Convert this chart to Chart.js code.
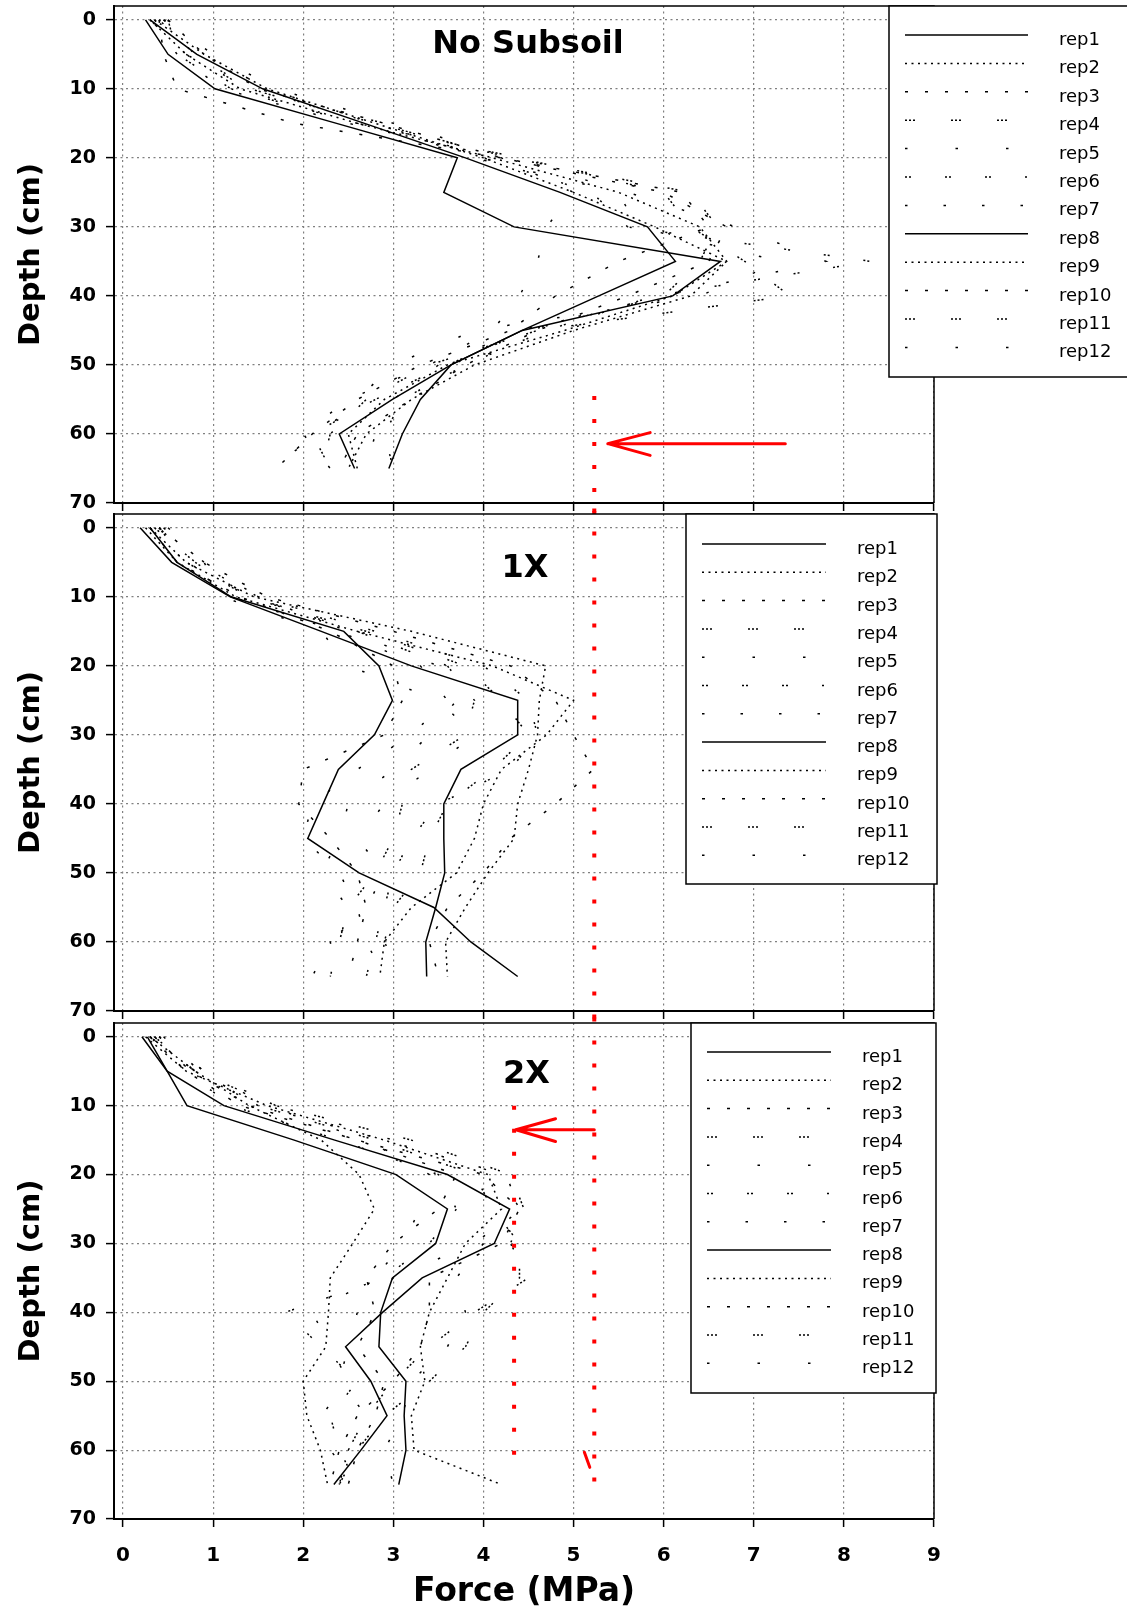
<!DOCTYPE html>
<html>
<head>
<meta charset="utf-8">
<script src="https://cdn.jsdelivr.net/npm/chart.js@4.4.1/dist/chart.umd.min.js"></script>
<style>
  html, body { margin: 0; padding: 0; background: #fff; }
  #wrap { position: relative; width: 1127px; height: 1612px; }
  #wrap canvas { position: absolute; left: 0; }
</style>
</head>
<body>
<div id="wrap">
  <canvas id="p1" width="1127" height="514" style="top:0"></canvas>
  <canvas id="p2" width="1127" height="515" style="top:508px"></canvas>
  <canvas id="p3" width="1127" height="595" style="top:1017px"></canvas>
</div>
<script>
// 深さ(cm)と目盛り
var DEPTH = [0, 5, 10, 15, 20, 25, 30, 35, 40, 45, 50, 55, 60, 65];
var X_TICKS = [0, 1, 2, 3, 4, 5, 6, 7, 8, 9];
var Y_TICKS = [0, 10, 20, 30, 40, 50, 60, 70];
var REPS = ["rep1", "rep2", "rep3", "rep4", "rep5", "rep6", "rep7", "rep8", "rep9", "rep10", "rep11", "rep12"];
var TITLES = ["No Subsoil", "1X", "2X"];

// 貫入抵抗 (MPa)、各行 rep1..rep12、DEPTH の順
var NO_SUBSOIL = [
    [0.30, 0.82, 1.55, 2.68, 3.80, 4.85, 5.82, 6.13, 5.28, 4.43, 3.64, 2.99, 2.40, 2.57],
    [0.35, 0.90, 1.60, 2.80, 4.00, 5.00, 5.90, 6.70, 6.10, 4.90, 3.60, 2.90, 2.50, 2.60],
    [0.40, 0.45, 0.60, 1.90, 4.20, 6.20, 6.50, 5.50, 4.80, 4.30, 3.30, 2.60, 2.10, 1.70],
    [0.50, 0.60, 1.20, 2.60, 4.40, 6.00, 6.30, 6.90, 7.40, 4.60, 3.40, 2.70, 2.30, 2.20],
    [0.45, 1.00, 1.70, 3.00, 4.30, 5.60, 6.80, 7.80, 6.00, 4.40, 3.50, 3.00, 2.80, 2.70],
    [0.40, 0.80, 1.40, 2.90, 4.00, 5.20, 5.60, 8.30, 5.90, 4.70, 3.80, 3.10, 2.90, 3.00],
    [0.35, 0.60, 1.10, 2.50, 4.20, 5.00, 4.70, 4.60, 4.40, 4.10, 3.40, 2.50, 2.00, 2.30],
    [0.25, 0.50, 1.02, 2.37, 3.71, 3.56, 4.34, 6.63, 6.10, 4.43, 3.64, 3.30, 3.10, 2.95],
    [0.30, 0.70, 1.30, 2.60, 4.10, 5.50, 6.40, 6.70, 6.30, 5.00, 3.90, 3.20, 2.70, 2.50],
    [0.50, 0.90, 1.50, 2.90, 4.20, 6.00, 6.70, 6.50, 5.60, 4.60, 3.80, 3.20, 2.60, 2.40],
    [0.30, 0.70, 1.40, 2.80, 4.30, 6.30, 6.60, 6.40, 6.00, 4.50, 3.60, 2.80, 2.10, 2.30],
    [0.45, 0.90, 1.60, 2.80, 3.90, 5.50, 5.70, 7.30, 6.40, 3.90, 3.00, 2.60, 2.20, 1.60]
];
var SUBSOIL_1X = [
    [0.19, 0.54, 1.19, 2.20, 3.20, 4.38, 4.38, 3.75, 3.56, 3.56, 3.57, 3.47, 3.36, 3.37],
    [0.30, 0.70, 1.45, 3.20, 4.69, 4.62, 4.60, 4.50, 4.38, 4.34, 4.05, 3.80, 3.58, 3.60],
    [0.30, 0.60, 1.30, 2.30, 3.00, 3.10, 2.90, 2.00, 1.95, 2.30, 2.60, 2.70, 2.60, 2.50],
    [0.40, 0.70, 1.40, 2.60, 3.60, 3.90, 3.80, 3.20, 3.10, 3.00, 2.80, 2.50, 2.40, 2.30],
    [0.50, 0.90, 1.10, 2.20, 2.50, 3.50, 3.90, 3.40, 2.90, 2.60, 2.90, 2.70, 2.30, 2.10],
    [0.35, 0.80, 1.50, 2.80, 4.00, 4.50, 4.60, 4.30, 3.50, 3.20, 3.00, 2.90, 2.80, 2.70],
    [0.30, 0.70, 1.20, 2.40, 3.30, 3.60, 3.20, 2.60, 2.10, 2.00, 2.40, 2.60, 2.70, 2.90],
    [0.30, 0.60, 1.20, 2.45, 2.84, 2.99, 2.79, 2.39, 2.22, 2.05, 2.62, 3.45, 3.86, 4.38],
    [0.25, 0.60, 1.25, 2.60, 4.10, 5.00, 4.70, 4.20, 4.00, 3.90, 3.70, 3.20, 2.90, 2.85],
    [0.40, 0.90, 1.60, 3.00, 4.30, 4.80, 5.00, 5.22, 4.80, 4.30, 4.00, 3.60, 3.40, 3.50],
    [0.40, 0.80, 1.40, 2.70, 3.80, 4.20, 4.50, 4.10, 3.60, 3.40, 3.30, 3.00, 2.90, 3.10],
    [0.45, 0.90, 1.50, 2.50, 3.50, 3.70, 3.40, 3.00, 2.50, 2.40, 2.20, 2.50, 2.30, 2.40]
];
var SUBSOIL_2X = [
    [0.21, 0.49, 1.12, 2.35, 3.60, 4.29, 4.12, 3.32, 2.88, 2.47, 2.75, 2.93, 2.64, 2.34],
    [0.30, 0.80, 1.40, 2.20, 2.62, 2.79, 2.55, 2.30, 2.28, 2.25, 2.00, 2.04, 2.19, 2.27],
    [0.30, 0.70, 1.30, 2.60, 4.00, 4.40, 4.20, 3.40, 3.40, 3.30, 3.00, 2.60, 2.40, 2.30],
    [0.35, 0.80, 1.50, 2.80, 3.90, 4.10, 4.40, 4.40, 4.00, 3.80, 3.40, 2.90, 2.60, 2.40],
    [0.40, 0.90, 1.70, 3.00, 4.20, 4.40, 3.90, 3.00, 2.60, 2.50, 2.40, 2.70, 2.50, 2.20],
    [0.30, 0.70, 1.20, 2.40, 3.50, 3.70, 3.40, 2.90, 1.80, 2.20, 2.60, 2.30, 2.40, 2.60],
    [0.45, 0.85, 1.50, 2.90, 4.25, 4.40, 4.00, 3.70, 3.80, 3.60, 3.20, 3.10, 2.90, 3.00],
    [0.27, 0.49, 0.71, 1.90, 3.03, 3.60, 3.47, 2.99, 2.86, 2.84, 3.14, 3.12, 3.14, 3.06],
    [0.25, 0.70, 1.60, 2.90, 4.05, 4.20, 3.80, 3.60, 3.40, 3.30, 3.35, 3.20, 3.23, 4.20],
    [0.35, 0.75, 1.40, 2.60, 3.70, 3.50, 3.00, 2.70, 2.80, 2.60, 2.90, 2.80, 2.60, 2.50],
    [0.30, 0.80, 1.70, 3.20, 4.30, 4.45, 4.30, 4.50, 3.90, 3.40, 3.00, 2.70, 2.50, 2.40],
    [0.40, 0.90, 1.60, 2.70, 3.40, 3.30, 3.10, 2.80, 2.10, 2.30, 2.50, 2.20, 2.30, 2.60]
];

// 赤の注記(縦の点線と矢印)
var RED_X = 5.23;
var RED_DEPTH = [[54.5, 71.6], [-2.8, 71.7], [-2.8, 66]];
var RED2_X = 4.34;
var RED2_DEPTH = [10, 62];
var ARROW1_X = [7.35, 5.38, 5.85, 5.38, 5.85];
var ARROW1_D = [61.4, 61.4, 59.8, 61.4, 63.1];
var ARROW3_X = [5.23, 4.36, 4.80, 4.36, 4.80];
var ARROW3_D = [13.5, 13.5, 11.9, 13.5, 15.2];
var MARK3_X = [5.12, 5.18];
var MARK3_D = [60.3, 62.5];

(function () {
    "use strict";

    var FONT = "DejaVu Sans";
    // SigmaPlot 風の線種 (rep8 以降は繰り返し)
    var DASH = [[], [2, 4.5], [3, 17], [2, 2, 2, 2, 2, 36], [2.5, 48], [2, 2, 2, 34], [2.5, 36],
                [], [2, 4.5], [3, 17], [2, 2, 2, 2, 2, 36], [2.5, 48]];

    Chart.defaults.font.family = FONT;
    Chart.defaults.color = "#000";

    function pts(xs, ds) { return ds.map(function (d, k) { return { x: xs[k], y: d }; }); }

    function repSets(rows) {
        return rows.map(function (f, i) {
            return { label: REPS[i], data: pts(f, DEPTH), borderColor: "#000", borderWidth: 1.5,
                     borderDash: DASH[i], pointRadius: 0, tension: 0, fill: false };
        });
    }
    function redDots(x, ds) {
        return { label: "", data: ds.map(function (d) { return { x: x, y: d }; }), borderColor: "#ff0000",
                 borderWidth: 4, borderDash: [4, 19], pointRadius: 0, clip: false };
    }
    function redSolid(xs, ds) {
        return { label: "", data: pts(xs, ds), borderColor: "#ff0000", borderWidth: 3,
                 borderJoinStyle: "round", borderCapStyle: "round", pointRadius: 0, clip: false };
    }

    // 上と右の枠線
    var framePlugin = {
        id: "frame",
        afterDatasetsDraw: function (c) {
            var a = c.chartArea, ctx = c.ctx;
            ctx.save();
            ctx.strokeStyle = "#000";
            ctx.lineWidth = 1.5;
            ctx.beginPath();
            ctx.moveTo(a.left, a.top); ctx.lineTo(a.right, a.top); ctx.lineTo(a.right, a.bottom);
            ctx.stroke();
            ctx.restore();
        }
    };

    // 枠付き凡例とパネル見出し
    var legendPlugin = {
        id: "repLegend",
        afterDraw: function (c, args, o) {
            var ctx = c.ctx, b = o.box, k = 0;
            ctx.save();
            ctx.font = "bold 32px '" + FONT + "'";
            ctx.fillStyle = "#000";
            ctx.textAlign = "center";
            ctx.textBaseline = "alphabetic";
            ctx.fillText(o.title, o.titleX, o.titleY);

            ctx.fillStyle = "#fff";
            ctx.fillRect(b[0], b[1], b[2] - b[0], b[3] - b[1]);
            ctx.strokeStyle = "#000";
            ctx.lineWidth = 1.5;
            ctx.strokeRect(b[0], b[1], b[2] - b[0], b[3] - b[1]);
            ctx.font = "18px '" + FONT + "'";
            ctx.textAlign = "left";
            c.data.datasets.forEach(function (ds) {
                if (REPS.indexOf(ds.label) < 0) return;
                var y = o.rowY + k * o.step;
                ctx.setLineDash(ds.borderDash || []);
                ctx.lineWidth = 1.5;
                ctx.beginPath(); ctx.moveTo(o.lineX[0], y); ctx.lineTo(o.lineX[1], y); ctx.stroke();
                ctx.setLineDash([]);
                ctx.fillStyle = "#000";
                ctx.fillText(ds.label, o.textX, y + 10);
                k++;
            });
            ctx.restore();
        }
    };

    function scales(bottomH, showX) {
        var bold = function (s) { return { family: FONT, weight: "bold", size: s }; };
        return {
            x: {
                type: "linear", min: -0.1, max: 9,
                afterBuildTicks: function (s) { s.ticks = X_TICKS.map(function (v) { return { value: v }; }); },
                afterFit: function (s) { s.height = bottomH; s.paddingLeft = 0; s.paddingRight = 0; },
                grid: { color: "#808080", lineWidth: 1.2, tickColor: "#000", tickWidth: 1.5, tickLength: 8 },
                border: { color: "#000", width: 2, dash: [2, 3.5] },
                ticks: { display: showX, padding: 17, font: bold(20), color: "#000" },
                title: { display: showX, text: "Force (MPa)", font: bold(33), color: "#000", padding: { top: 0, bottom: 0 } }
            },
            y: {
                type: "linear", min: -2, max: 70, reverse: true,
                afterBuildTicks: function (s) { s.ticks = Y_TICKS.map(function (v) { return { value: v }; }); },
                afterFit: function (s) { s.width = 114; s.paddingTop = 0; s.paddingBottom = 0; },
                grid: { color: "#808080", lineWidth: 1.2, tickColor: "#000", tickWidth: 1.5, tickLength: 8 },
                border: { color: "#000", width: 2, dash: [2, 3.5] },
                ticks: { padding: 10, font: bold(19), color: "#000" },
                title: { display: true, text: "Depth (cm)", font: bold(29), color: "#000", padding: { top: 14, bottom: 0 } }
            }
        };
    }

    function panel(id, rows, extra, bottomH, showX, leg) {
        new Chart(document.getElementById(id).getContext("2d"), {
            type: "line",
            data: { datasets: extra.concat(repSets(rows)) },
            plugins: [framePlugin, legendPlugin],
            options: {
                responsive: false, animation: false, events: [],
                layout: { padding: { top: 6, right: 193, bottom: 0, left: 0 }, autoPadding: false },
                scales: scales(bottomH, showX),
                plugins: { legend: { display: false }, tooltip: { enabled: false }, repLegend: leg }
            }
        });
    }

    panel("p1", NO_SUBSOIL,
          [redSolid(ARROW1_X, ARROW1_D), redDots(RED_X, RED_DEPTH[0])], 11, false,
          { box: [889, 6, 1128, 377], lineX: [905, 1028], textX: 1059, rowY: 35, step: 28.4,
            title: TITLES[0], titleX: 528, titleY: 53 });
    panel("p2", SUBSOIL_1X,
          [redDots(RED_X, RED_DEPTH[1])], 12, false,
          { box: [686, 6, 937, 376], lineX: [702, 826], textX: 857, rowY: 36, step: 28.3,
            title: TITLES[1], titleX: 525, titleY: 68.7 });
    panel("p3", SUBSOIL_2X,
          [redSolid(ARROW3_X, ARROW3_D), redSolid(MARK3_X, MARK3_D),
           redDots(RED_X, RED_DEPTH[2]), redDots(RED2_X, RED2_DEPTH)], 93, true,
          { box: [691, 6, 936, 376], lineX: [707, 831], textX: 862, rowY: 35, step: 28.3,
            title: TITLES[2], titleX: 526.5, titleY: 66 });
})();
</script>
</body>
</html>
